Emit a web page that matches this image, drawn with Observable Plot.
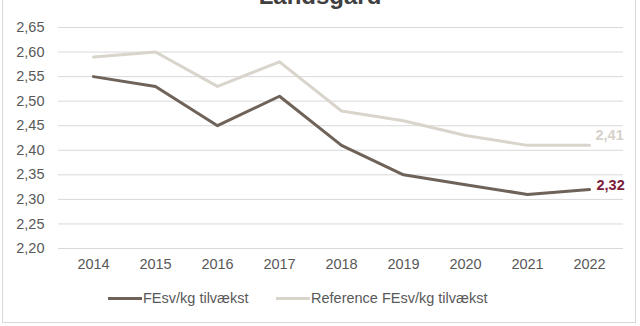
<!DOCTYPE html>
<html>
<head>
<meta charset="utf-8">
<script src="https://cdn.jsdelivr.net/npm/d3@7"></script>
<script src="https://cdn.jsdelivr.net/npm/@observablehq/plot@0.6"></script>
<style>
  html, body { margin: 0; padding: 0; background: #fff; overflow: hidden; }
  body { width: 640px; height: 326px; position: relative; font-family: "Liberation Sans", Arial, sans-serif; }
  #frame { position: absolute; left: 2px; top: -2px; width: 634px; height: 325px; border: 1px solid #d9d9d9; box-sizing: border-box; }
  #title { position: absolute; left: 0; width: 640px; top: -18px; text-align: center; font-size: 24px; font-weight: bold; color: #404040; }
  #chart { position: absolute; left: 0; top: 0; }
  #legend { position: absolute; top: 290px; left: 0; font-size: 14.5px; color: #595959; }
  .item { position: absolute; white-space: nowrap; display: flex; align-items: center; }
  .sw { display: inline-block; width: 34px; height: 3px; margin-right: 1px; }
</style>
</head>
<body>
<div id="frame"></div>
<div id="title">Landsgård</div>
<div id="chart"></div>
<div id="legend"></div>
<script>
const years = ["2014","2015","2016","2017","2018","2019","2020","2021","2022"];
const feValues = [2.55, 2.53, 2.45, 2.51, 2.41, 2.35, 2.33, 2.31, 2.32];
const refValues = [2.59, 2.60, 2.53, 2.58, 2.48, 2.46, 2.43, 2.41, 2.41];
const seriesNames = ["FEsv/kg tilvækst", "Reference FEsv/kg tilvækst"];
const yTicks = [2.20, 2.25, 2.30, 2.35, 2.40, 2.45, 2.50, 2.55, 2.60, 2.65];
const colors = ["#6f6359", "#d9d4cc"];
const labelColors = ["#7b1d3b", "#d6d1ca"];

const fmt = d => d.toFixed(2).replace(".", ",");
const fe = years.map((y, i) => ({year: y, value: feValues[i]}));
const ref = years.map((y, i) => ({year: y, value: refValues[i]}));
const last = years.length - 1;

const plot = Plot.plot({
  width: 640,
  height: 280,
  marginTop: 27,
  marginBottom: 32,
  marginLeft: 58,
  marginRight: 17,
  style: {fontFamily: "'Liberation Sans', Arial, sans-serif", fontSize: "14.5px", color: "#595959", background: "transparent"},
  x: {type: "point", domain: years, padding: 0.5, label: null},
  y: {domain: [2.20, 2.65], label: null},
  marks: [
    Plot.gridY(yTicks, {stroke: "#d9d9d9", strokeOpacity: 1, strokeWidth: 1}),
    Plot.axisY(yTicks, {tickSize: 0, tickPadding: 14, tickFormat: fmt, fill: "#595959", fontSize: 14.5, label: null}),
    Plot.axisX({tickSize: 0, tickPadding: 10, fill: "#595959", fontSize: 14.5, label: null}),
    Plot.line(ref, {x: "year", y: "value", stroke: colors[1], strokeWidth: 3}),
    Plot.line(fe, {x: "year", y: "value", stroke: colors[0], strokeWidth: 3}),
    Plot.text([ref[last]], {x: "year", y: "value", text: d => fmt(d.value), textAnchor: "start", dx: 6, dy: -10, fill: labelColors[1], fontWeight: "bold", fontSize: 14.5, stroke: "white", strokeWidth: 6}),
    Plot.text([fe[last]], {x: "year", y: "value", text: d => fmt(d.value), textAnchor: "start", dx: 7, dy: -4, fill: labelColors[0], fontWeight: "bold", fontSize: 14.5, stroke: "white", strokeWidth: 6})
  ]
});
document.getElementById("chart").appendChild(plot);

const legend = document.getElementById("legend");
const lefts = [108, 276];
seriesNames.forEach((name, i) => {
  const item = document.createElement("div");
  item.className = "item";
  item.style.left = lefts[i] + "px";
  item.innerHTML = `<span class="sw" style="background:${colors[i]}"></span><span>${name}</span>`;
  legend.appendChild(item);
});
</script>
</body>
</html>
